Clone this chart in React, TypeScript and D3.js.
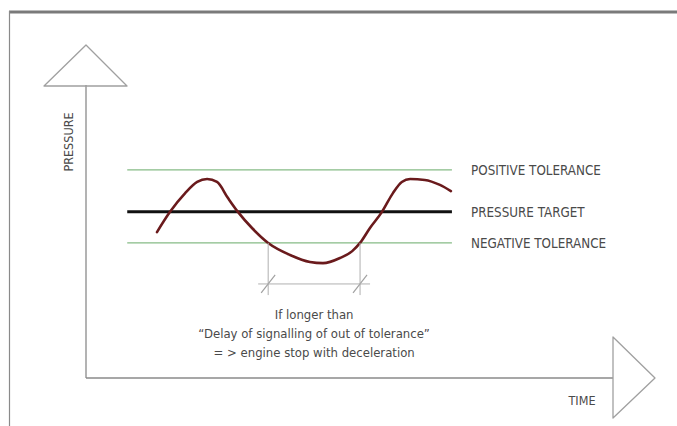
import React from "react";
import * as d3 from "d3";

// curve samples (time, pressure) in chart units 0..100
const curveTime: number[] = [13.6, 16.1, 19.0, 21.3, 23.2, 25.1, 27.2, 29.1, 31.8, 34.9, 39.1, 42.9, 45.4, 48.7, 51.0, 52.5, 54.4, 56.7, 58.8, 60.5, 62.1, 64.9, 67.8, 69.9];
const curvePressure: number[] = [49.8, 56.7, 63.1, 66.9, 67.9, 66.9, 61.4, 56.7, 51.2, 46.1, 42.0, 39.6, 39.2, 41.0, 43.3, 46.1, 51.2, 56.7, 63.1, 66.9, 67.9, 67.6, 65.9, 63.8];

const levelNames: string[] = ["POSITIVE TOLERANCE", "PRESSURE TARGET", "NEGATIVE TOLERANCE"];
const levelValues: number[] = [71.0, 56.7, 46.1];
const levelSpan: number[] = [7.9, 70.1];

// out-of-tolerance interval
const delayStart: number = 34.9;
const delayEnd: number = 52.5;
const delayLevel: number = 32.1;
const delayBottom: number = 28.3;

const noteLines: string[] = [
  "If longer than",
  "\u201CDelay of signalling of out of tolerance\u201D",
  "= > engine stop with deceleration",
];

const FONT = "'DejaVu Sans Condensed', 'Liberation Sans Narrow', sans-serif";
const TEXT = "#4a4a4a";
const AXIS = "#8a8a8a";

export default function App(): React.ReactElement {
  const W = 677, H = 426;
  const x = d3.scaleLinear().domain([0, 100]).range([86, 608]);
  const y = d3.scaleLinear().domain([0, 100]).range([378, 85]);

  const pts: [number, number][] = curveTime.map((t, i) => [t, curvePressure[i]]);
  const line = d3.line<[number, number]>()
    .x(d => x(d[0]))
    .y(d => y(d[1]))
    .curve(d3.curveMonotoneX);

  const x0 = x(0), y0 = y(0);
  const slash = (cx: number, cy: number) =>
    `M${cx - 7},${cy + 9}L${cx + 7},${cy - 9}`;
  const noteX = x((delayStart + delayEnd) / 2);

  return (
    <svg width={W} height={H} style={{position: "absolute", left: 0, top: 0, background: "#fff"}}>
      {/* frame */}
      <line x1={9} y1={12} x2={W} y2={12} stroke="#7a7a7a" strokeWidth={3} />
      <line x1={9.5} y1={11} x2={9.5} y2={H} stroke="#8a8a8a" strokeWidth={1.2} />

      {/* axes */}
      <line x1={x0} y1={y(100)} x2={x0} y2={y0} stroke={AXIS} strokeWidth={1.3} />
      <line x1={x0} y1={y0} x2={613} y2={y0} stroke={AXIS} strokeWidth={1.3} />
      <path d={`M${x0},45L127,86L44,86Z`} fill="none" stroke="#a0a0a0" strokeWidth={1.3} strokeLinejoin="round" />
      <path d={`M613,337L655,${y0}L613,418Z`} fill="none" stroke="#a0a0a0" strokeWidth={1.3} strokeLinejoin="round" />
      <text x={68} y={142} transform="rotate(-90,68,142)" textAnchor="middle" dominantBaseline="central"
            fontFamily={FONT} fontSize={12.5} fill={TEXT}>PRESSURE</text>
      <text x={582} y={400} textAnchor="middle" dominantBaseline="central"
            fontFamily={FONT} fontSize={12.5} fill={TEXT}>TIME</text>

      {/* tolerance and target levels */}
      {levelValues.map((v, i) => (
        <g key={levelNames[i]}>
          <line x1={x(levelSpan[0])} x2={x(levelSpan[1])} y1={y(v)} y2={y(v)}
                stroke={i === 1 ? "#111" : "#86bb86"} strokeWidth={i === 1 ? 3 : 1.2} />
          <text x={471} y={y(v) + 1} dominantBaseline="central" fontFamily={FONT} fontSize={13.3} fill={TEXT}>
            {levelNames[i]}
          </text>
        </g>
      ))}

      {/* pressure curve */}
      <path d={line(pts) ?? ""} fill="none" stroke="#6a1a1c" strokeWidth={2.6} strokeLinecap="round" />

      {/* delay dimension */}
      {[delayStart, delayEnd].map(t => (
        <g key={t}>
          <line x1={x(t)} x2={x(t)} y1={y(levelValues[2])} y2={y(delayBottom)} stroke="#b0b0b0" strokeWidth={1} />
          <path d={slash(x(t), y(delayLevel))} stroke="#a0a0a0" strokeWidth={1.2} />
        </g>
      ))}
      <line x1={x(delayStart) - 10} x2={x(delayEnd) + 10} y1={y(delayLevel)} y2={y(delayLevel)} stroke="#b0b0b0" strokeWidth={1} />

      {noteLines.map((s, i) => (
        <text key={i} x={noteX} y={314 + i * 19} textAnchor="middle" dominantBaseline="central"
              fontFamily={FONT} fontSize={13} fill={TEXT}>{s}</text>
      ))}
    </svg>
  );
}
